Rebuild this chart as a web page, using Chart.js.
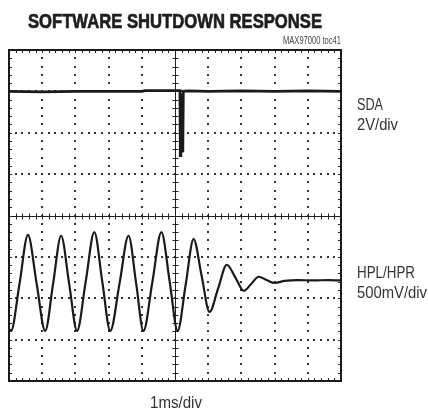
<!DOCTYPE html>
<html>
<head>
<meta charset="utf-8">
<script src="https://cdn.jsdelivr.net/npm/chart.js@4.4.1/dist/chart.umd.min.js"></script>
<style>
  html,body{margin:0;padding:0;background:#fff;}
  canvas{display:block;}
</style>
</head>
<body>
<canvas id="c" width="428" height="410" style="width:428px;height:410px"></canvas>
<script>
// ---- data (divisions: x 0..10, y -4..4) ----
const titleText = "SOFTWARE SHUTDOWN RESPONSE";
const tocText = "MAX97000 toc41";
const xLabel = "1ms/div";
const sdaLabels = ["SDA", "2V/div"];
const hpLabels = ["HPL/HPR", "500mV/div"];

const sdaX = [0.00, 1.00, 2.00, 3.00, 4.00, 4.10, 4.60, 5.10, 5.15, 5.16, 5.17, 5.18, 5.19, 5.20, 5.21, 5.22, 5.23, 5.24, 5.25, 5.40, 6.00, 7.00, 8.00, 9.00, 10.00];
const sdaY = [3.00, 2.99, 3.00, 3.00, 3.00, 3.02, 3.02, 3.02, 3.02, 1.45, 2.90, 1.48, 2.95, 1.52, 2.90, 1.56, 2.95, 1.65, 3.00, 3.01, 3.00, 3.01, 3.00, 3.01, 3.00];

const hpX = [0.00, 0.06, 0.32, 0.57, 0.83, 1.09, 1.33, 1.57, 1.81, 2.05, 2.31, 2.57, 2.81, 3.05, 3.33, 3.60, 3.83, 4.05, 4.32, 4.59, 4.84, 5.08, 5.32, 5.56, 5.80, 6.04, 6.30, 6.56, 6.82, 7.07, 7.30, 7.52, 7.76, 8.00, 8.30, 8.70, 9.20, 9.60, 10.00];
const hpY = [-2.74, -2.79, -1.63, -0.47, -1.63, -2.79, -1.64, -0.49, -1.64, -2.79, -1.60, -0.40, -1.60, -2.79, -1.64, -0.49, -1.64, -2.79, -1.60, -0.40, -1.60, -2.79, -1.68, -0.57, -1.45, -2.33, -1.76, -1.19, -1.50, -1.82, -1.65, -1.48, -1.56, -1.63, -1.58, -1.56, -1.57, -1.56, -1.57];

const xDivs = 10, yDivs = 8, minorPerDiv = 5;

const sdaData = sdaX.map((x, i) => ({x: x, y: sdaY[i]}));
const hpData = hpX.map((x, i) => ({x: x, y: hpY[i]}));

const scopeGrid = {
  id: 'scopeGrid',
  beforeDatasetsDraw(chart) {
    const {ctx, chartArea: a, scales: {x, y}} = chart;
    ctx.save();
    ctx.fillStyle = '#333';
    // dotted grid
    for (let i = 1; i < xDivs; i++) {
      if (i === xDivs / 2) continue;
      const px = Math.round(x.getPixelForValue(i));
      for (let k = 1; k < yDivs * minorPerDiv; k++) {
        const py = Math.round(y.getPixelForValue(-4 + k / minorPerDiv));
        ctx.fillRect(px - 1, py - 1, 2, 2);
      }
    }
    for (let j = -3; j <= 3; j++) {
      if (j === 0) continue;
      const py = Math.round(y.getPixelForValue(j));
      for (let k = 1; k < xDivs * minorPerDiv; k++) {
        const px = Math.round(x.getPixelForValue(k / minorPerDiv));
        ctx.fillRect(px - 1, py - 1, 2, 2);
      }
    }
    // center lines with ticks
    ctx.strokeStyle = '#222';
    ctx.lineWidth = 1;
    const cx = Math.round(x.getPixelForValue(5)) + 0.5;
    const cy = Math.round(y.getPixelForValue(0)) + 0.5;
    ctx.beginPath();
    ctx.moveTo(cx, a.top); ctx.lineTo(cx, a.bottom);
    ctx.moveTo(a.left, cy); ctx.lineTo(a.right, cy);
    for (let k = 1; k < yDivs * minorPerDiv; k++) {
      const py = Math.round(y.getPixelForValue(-4 + k / minorPerDiv)) + 0.5;
      ctx.moveTo(cx - 3, py); ctx.lineTo(cx + 3, py);
      ctx.moveTo(a.left, py); ctx.lineTo(a.left + 3, py);
      ctx.moveTo(a.right, py); ctx.lineTo(a.right - 3, py);
    }
    for (let k = 1; k < xDivs * minorPerDiv; k++) {
      const px = Math.round(x.getPixelForValue(k / minorPerDiv)) + 0.5;
      ctx.moveTo(px, cy - 3); ctx.lineTo(px, cy + 3);
      ctx.moveTo(px, a.top); ctx.lineTo(px, a.top + 3);
      ctx.moveTo(px, a.bottom); ctx.lineTo(px, a.bottom - 3);
    }
    ctx.stroke();
    // frame
    ctx.lineWidth = 2;
    ctx.strokeStyle = '#1a1a1a';
    ctx.strokeRect(a.left, a.top, a.right - a.left, a.bottom - a.top);
    ctx.restore();
  },
  afterDraw(chart) {
    const {ctx, chartArea: a} = chart;
    ctx.save();
    ctx.fillStyle = '#1e1e1e';
    ctx.strokeStyle = '#1e1e1e';
    ctx.lineWidth = 0.7;
    ctx.textBaseline = 'alphabetic';
    ctx.textAlign = 'center';
    ctx.font = 'bold 21px "Liberation Sans", Arial, sans-serif';
    ctx.fillText(titleText, 175, 28, 294);
    ctx.strokeText(titleText, 175, 28, 294);
    ctx.textAlign = 'right';
    ctx.fillStyle = '#444';
    ctx.font = '10.5px "Liberation Sans", Arial, sans-serif';
    ctx.fillText(tocText, a.right, 44, 58);
    ctx.fillStyle = '#333';
    ctx.textAlign = 'left';
    ctx.font = '16px "Liberation Sans", Arial, sans-serif';
    ctx.fillText(sdaLabels[0], 357, 110, 26);
    ctx.fillText(sdaLabels[1], 357, 130, 41);
    ctx.fillText(hpLabels[0], 357, 278, 58);
    ctx.fillText(hpLabels[1], 357, 298, 70);
    ctx.textAlign = 'center';
    ctx.fillText(xLabel, 176, 408, 52);
    ctx.restore();
  }
};

new Chart(document.getElementById('c'), {
  type: 'line',
  data: {
    datasets: [
      {label: 'SDA', data: sdaData, borderColor: '#1a1a1a', borderWidth: 2.8, pointRadius: 0, tension: 0, fill: false},
      {label: 'HPL/HPR', data: hpData, borderColor: '#1a1a1a', borderWidth: 2.2, pointRadius: 0, cubicInterpolationMode: 'monotone', fill: false}
    ]
  },
  options: {
    responsive: false,
    animation: false,
    events: [],
    layout: {padding: {left: 9, top: 50, right: 87, bottom: 29}},
    plugins: {legend: {display: false}, tooltip: {enabled: false}, title: {display: false}},
    scales: {
      x: {type: 'linear', min: 0, max: 10, display: false},
      y: {type: 'linear', min: -4, max: 4, display: false}
    }
  },
  plugins: [scopeGrid]
});
</script>
</body>
</html>
